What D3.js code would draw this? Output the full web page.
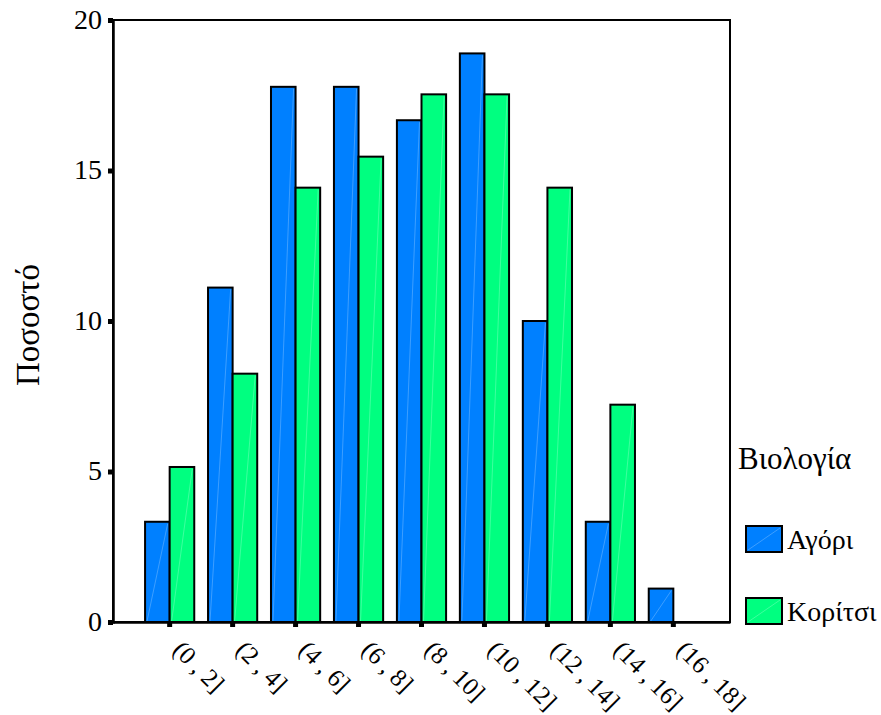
<!DOCTYPE html>
<html>
<head>
<meta charset="utf-8">
<script src="https://cdn.jsdelivr.net/npm/d3@7/dist/d3.min.js"></script>
<style>
  html, body { margin: 0; padding: 0; background: #fff; }
  svg { display: block; }
  text { font-family: "Liberation Serif", "DejaVu Serif", serif; fill: #000; }
</style>
</head>
<body>
<svg id="chart" width="881" height="715"></svg>
<script>
const categories = ["(0 , 2]", "(2 , 4]", "(4 , 6]", "(6 , 8]", "(8 , 10]", "(10 , 12]", "(12 , 14]", "(14 , 16]", "(16 , 18]"];
const seriesNames = ["Αγόρι", "Κορίτσι"];
const boys  = [3.33, 11.11, 17.78, 17.78, 16.67, 18.89, 10.00, 3.33, 1.11];
const girls = [5.15, 8.25, 14.43, 15.46, 17.53, 17.53, 14.43, 7.22, 0];
const yTicks = [0, 5, 10, 15, 20];
const colors = ["#0080ff", "#00ff80"];
const yTitle = "Ποσοστό";
const legendTitle = "Βιολογία";

const svg = d3.select("#chart");
const m = { left: 113, top: 20, right: 730, bottom: 622 };

const x = d3.scaleBand().domain(categories).range([m.left, m.right]).paddingInner(0).paddingOuter(0.4);
const xs = d3.scaleBand().domain(seriesNames).range([0, x.bandwidth()]).paddingInner(0).paddingOuter(0.28);
const y = d3.scaleLinear().domain([0, 20]).range([m.bottom, m.top]);

const data = categories.map((c, i) => ({ c, vals: [boys[i], girls[i]] }));

// bars
const g = svg.append("g");
const groups = g.selectAll("g.grp").data(data).join("g")
  .attr("transform", d => `translate(${x(d.c)},0)`);
const bars = groups.selectAll("g.bar").data(d => d.vals.map((v, k) => ({ v, k, s: seriesNames[k] })).filter(e => e.v > 0))
  .join("g");
bars.append("rect")
  .attr("x", d => xs(d.s))
  .attr("y", d => y(d.v))
  .attr("width", xs.bandwidth())
  .attr("height", d => y(0) - y(d.v))
  .attr("fill", d => colors[d.k])
  .attr("stroke", "#000")
  .attr("stroke-width", 2);
bars.append("line")
  .attr("x1", d => xs(d.s) + 2)
  .attr("y1", d => y(0) - 1)
  .attr("x2", d => xs(d.s) + xs.bandwidth() - 2)
  .attr("y2", d => y(d.v) + 2)
  .attr("stroke", "#fff")
  .attr("stroke-opacity", 0.3)
  .attr("stroke-width", 0.8);

// frame
svg.append("rect")
  .attr("x", m.left).attr("y", m.top)
  .attr("width", m.right - m.left).attr("height", m.bottom - m.top)
  .attr("fill", "none").attr("stroke", "#000").attr("stroke-width", 2);

// y axis
const yAxis = svg.append("g").attr("transform", `translate(${m.left},0)`)
  .call(d3.axisLeft(y).tickValues(yTicks).tickSize(5).tickPadding(6).tickFormat(d3.format("d")));
yAxis.select(".domain").attr("stroke", "#000").attr("stroke-width", 2.5);
yAxis.selectAll(".tick line").attr("stroke", "#000").attr("stroke-width", 5);
yAxis.selectAll(".tick text").style("font-size", "28px").style("font-family", "Liberation Serif").attr("dy", "0.3em");

// x axis
const xAxis = svg.append("g").attr("transform", `translate(0,${m.bottom})`)
  .call(d3.axisBottom(x).tickSize(5).tickSizeOuter(0));
xAxis.select(".domain").attr("stroke", "#000").attr("stroke-width", 2.5);
xAxis.selectAll(".tick line").attr("stroke", "#000").attr("stroke-width", 5);
xAxis.selectAll(".tick text")
  .style("font-size", "25px").style("font-family", "Liberation Serif")
  .attr("text-anchor", "start")
  .attr("transform", "translate(8,23) rotate(45)")
  .attr("y", 0).attr("dy", "0.35em").attr("x", 0);

// y title
svg.append("text")
  .attr("transform", `translate(39,${(m.top + m.bottom) / 2 + 4}) rotate(-90)`)
  .attr("text-anchor", "middle")
  .style("font-size", "33px")
  .text(yTitle);

// legend
svg.append("text").attr("x", 738).attr("y", 469).style("font-size", "31px").text(legendTitle);
const leg = svg.append("g").selectAll("g").data(seriesNames).join("g")
  .attr("transform", (d, i) => `translate(746,${526 + i * 72})`);
leg.append("rect").attr("width", 36).attr("height", 26)
  .attr("fill", (d, i) => colors[i]).attr("stroke", "#000").attr("stroke-width", 2);
leg.append("line").attr("x1", 2).attr("y1", 24).attr("x2", 34).attr("y2", 2)
  .attr("stroke", "#fff").attr("stroke-opacity", 0.3).attr("stroke-width", 0.8);
leg.append("text").attr("x", 41).attr("y", 23).style("font-size", "28px").text(d => d);
</script>
</body>
</html>
